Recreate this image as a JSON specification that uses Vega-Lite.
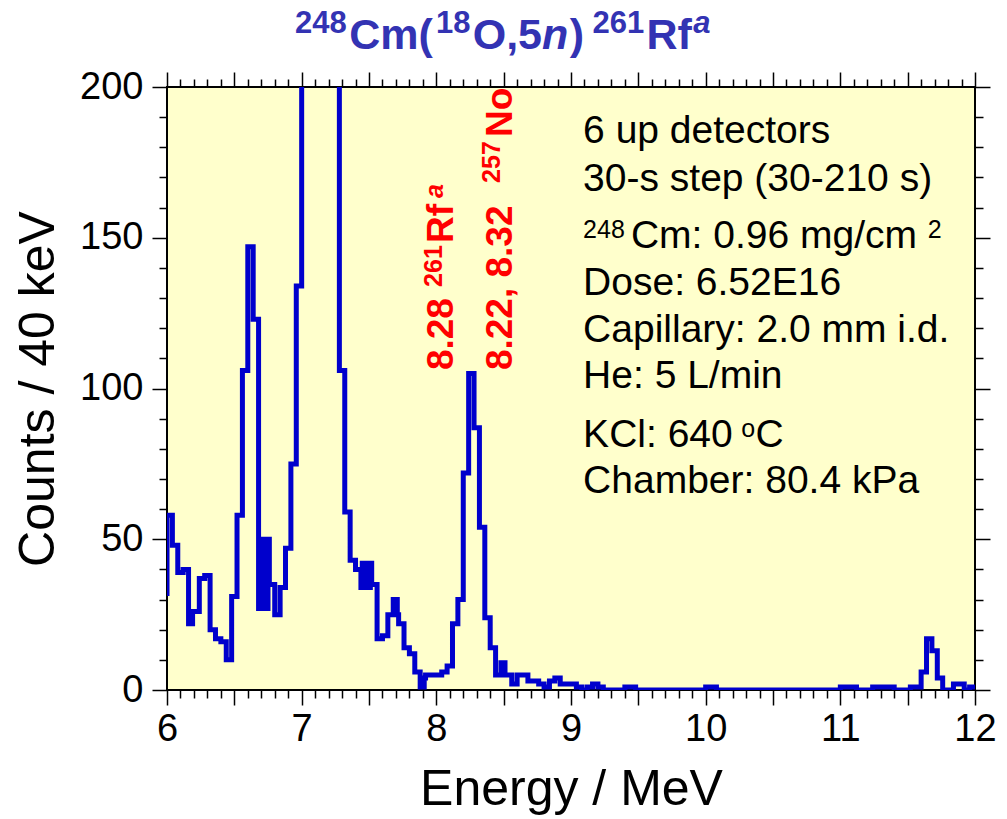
{
  "$schema": "https://vega.github.io/schema/vega-lite/v6.json",
  "autosize": "none",
  "width": 808,
  "height": 603,
  "padding": {"left": 167, "top": 87, "right": 32, "bottom": 129},
  "background": "white",
  "view": {"fill": "#FFFFCC", "stroke": "black", "strokeWidth": 2},
  "config": {
    "axis": {"domain": false, "grid": false, "tickColor": "black", "tickWidth": 1.5, "labelFont": "Liberation Sans", "labelFontSize": 38, "labelColor": "black", "titleFont": "Liberation Sans", "titleFontSize": 50, "titleFontWeight": "normal", "titleColor": "black", "labelOverlap": false, "labelFlush": false, "labelBound": false},
    "text": {"font": "Liberation Sans"}
  },
  "data": {"values": [
    {"E":5.96,"C":32},{"E":6.00,"C":58},{"E":6.04,"C":48},{"E":6.08,"C":39},{"E":6.12,"C":40},
    {"E":6.16,"C":22},{"E":6.17,"C":26},{"E":6.18,"C":22},{"E":6.19,"C":26},{"E":6.20,"C":26},
    {"E":6.24,"C":37},{"E":6.28,"C":38},{"E":6.32,"C":20},{"E":6.36,"C":17},{"E":6.40,"C":16},
    {"E":6.44,"C":10},{"E":6.48,"C":31},{"E":6.52,"C":58},{"E":6.56,"C":106},{"E":6.60,"C":147},
    {"E":6.64,"C":123},{"E":6.68,"C":27},{"E":6.69,"C":50},{"E":6.70,"C":27},{"E":6.71,"C":50},
    {"E":6.72,"C":27},{"E":6.73,"C":50},{"E":6.74,"C":27},{"E":6.75,"C":50},{"E":6.76,"C":35},
    {"E":6.80,"C":25},{"E":6.84,"C":34},{"E":6.88,"C":47},{"E":6.92,"C":75},{"E":6.96,"C":134},
    {"E":7.00,"C":260},{"E":7.04,"C":310},{"E":7.08,"C":290},{"E":7.12,"C":270},{"E":7.16,"C":300},
    {"E":7.20,"C":340},{"E":7.24,"C":320},{"E":7.28,"C":106},{"E":7.32,"C":59},{"E":7.36,"C":43},
    {"E":7.40,"C":40},{"E":7.44,"C":34},{"E":7.45,"C":42},{"E":7.46,"C":34},{"E":7.47,"C":42},
    {"E":7.48,"C":34},{"E":7.49,"C":42},{"E":7.50,"C":34},{"E":7.51,"C":42},{"E":7.52,"C":35},
    {"E":7.56,"C":17},{"E":7.60,"C":18},{"E":7.64,"C":25},{"E":7.68,"C":30},{"E":7.69,"C":25},
    {"E":7.70,"C":30},{"E":7.71,"C":25},{"E":7.72,"C":22},{"E":7.76,"C":14},{"E":7.80,"C":12},
    {"E":7.84,"C":6},{"E":7.88,"C":1},{"E":7.89,"C":4},{"E":7.90,"C":1},{"E":7.91,"C":4},
    {"E":7.92,"C":5},{"E":7.96,"C":5},{"E":8.00,"C":5},{"E":8.04,"C":6},{"E":8.08,"C":8},
    {"E":8.12,"C":22},{"E":8.16,"C":30},{"E":8.20,"C":72},{"E":8.24,"C":105},{"E":8.28,"C":87},
    {"E":8.32,"C":54},{"E":8.36,"C":24},{"E":8.40,"C":14},{"E":8.44,"C":5},{"E":8.48,"C":9},
    {"E":8.49,"C":5},{"E":8.50,"C":9},{"E":8.51,"C":5},{"E":8.52,"C":5},{"E":8.56,"C":2},
    {"E":8.60,"C":5},{"E":8.64,"C":5},{"E":8.68,"C":3},{"E":8.72,"C":3},{"E":8.76,"C":2},
    {"E":8.80,"C":1},{"E":8.84,"C":3},{"E":8.88,"C":4},{"E":8.92,"C":2},{"E":8.96,"C":2},
    {"E":9.00,"C":2},{"E":9.04,"C":1},{"E":9.08,"C":0},{"E":9.12,"C":1},{"E":9.16,"C":2},
    {"E":9.20,"C":1},{"E":9.24,"C":0},{"E":9.28,"C":0},{"E":9.32,"C":0},{"E":9.36,"C":0},
    {"E":9.40,"C":1},{"E":9.44,"C":1},{"E":9.48,"C":0},{"E":9.52,"C":0},{"E":9.56,"C":0},
    {"E":9.60,"C":0},{"E":9.64,"C":0},{"E":9.68,"C":0},{"E":9.72,"C":0},{"E":9.76,"C":0},
    {"E":9.80,"C":0},{"E":9.84,"C":0},{"E":9.88,"C":0},{"E":9.92,"C":0},{"E":9.96,"C":0},
    {"E":10.00,"C":1},{"E":10.04,"C":1},{"E":10.08,"C":0},{"E":10.12,"C":0},{"E":10.16,"C":0},
    {"E":10.20,"C":0},{"E":10.24,"C":0},{"E":10.28,"C":0},{"E":10.32,"C":0},{"E":10.36,"C":0},
    {"E":10.40,"C":0},{"E":10.44,"C":0},{"E":10.48,"C":0},{"E":10.52,"C":0},{"E":10.56,"C":0},
    {"E":10.60,"C":0},{"E":10.64,"C":0},{"E":10.68,"C":0},{"E":10.72,"C":0},{"E":10.76,"C":0},
    {"E":10.80,"C":0},{"E":10.84,"C":0},{"E":10.88,"C":0},{"E":10.92,"C":0},{"E":10.96,"C":0},
    {"E":11.00,"C":1},{"E":11.04,"C":1},{"E":11.08,"C":1},{"E":11.12,"C":0},{"E":11.16,"C":0},
    {"E":11.20,"C":0},{"E":11.24,"C":1},{"E":11.28,"C":1},{"E":11.32,"C":1},{"E":11.36,"C":1},
    {"E":11.40,"C":0},{"E":11.44,"C":0},{"E":11.48,"C":0},{"E":11.52,"C":1},{"E":11.56,"C":1},
    {"E":11.60,"C":6},{"E":11.64,"C":17},{"E":11.68,"C":13},{"E":11.72,"C":4},{"E":11.76,"C":0},
    {"E":11.80,"C":0},{"E":11.84,"C":2},{"E":11.88,"C":2},{"E":11.92,"C":0},{"E":11.96,"C":1},
    {"E":12.00,"C":1}
  ]},
  "resolve": {"axis": {"x": "independent", "y": "independent"}},
  "layer": [
    {
      "mark": {"type": "line", "interpolate": "step-after", "clip": true, "color": "#0000CC", "strokeWidth": 5, "strokeJoin": "miter", "strokeCap": "butt"},
      "encoding": {
        "x": {"field": "E", "type": "quantitative", "scale": {"domain": [6, 12], "nice": false, "zero": false},
              "axis": {"orient": "bottom", "values": [6,7,8,9,10,11,12], "tickSize": 15, "labelPadding": 5, "title": "Energy / MeV", "titlePadding": 16}},
        "y": {"field": "C", "type": "quantitative", "scale": {"domain": [0, 200], "nice": false, "zero": true},
              "axis": {"orient": "left", "values": [0,50,100,150,200], "tickSize": 15, "labelPadding": 9, "title": "Counts / 40 keV", "titlePadding": 16}}
      }
    },
    {
      "mark": {"type": "point", "opacity": 0},
      "encoding": {
        "x": {"field": "E", "type": "quantitative", "axis": {"orient": "bottom", "values": [6.5,7.5,8.5,9.5,10.5,11.5], "tickSize": 15, "labels": false, "title": null}},
        "y": {"field": "C", "type": "quantitative", "axis": {"orient": "left", "values": [10,20,30,40,60,70,80,90,110,120,130,140,160,170,180,190], "tickSize": 8, "labels": false, "title": null}}
      }
    },
    {
      "mark": {"type": "point", "opacity": 0},
      "encoding": {
        "x": {"field": "E", "type": "quantitative", "axis": {"orient": "bottom", "values": [6.1,6.2,6.3,6.4,6.6,6.7,6.8,6.9,7.1,7.2,7.3,7.4,7.6,7.7,7.8,7.9,8.1,8.2,8.3,8.4,8.6,8.7,8.8,8.9,9.1,9.2,9.3,9.4,9.6,9.7,9.8,9.9,10.1,10.2,10.3,10.4,10.6,10.7,10.8,10.9,11.1,11.2,11.3,11.4,11.6,11.7,11.8,11.9], "tickSize": 8, "labels": false, "title": null}},
        "y": {"field": "C", "type": "quantitative", "axis": {"orient": "right", "values": [0,50,100,150,200], "tickSize": 15, "labels": false, "title": null}}
      }
    },
    {
      "mark": {"type": "point", "opacity": 0},
      "encoding": {
        "x": {"field": "E", "type": "quantitative", "axis": {"orient": "top", "values": [6,7,8,9,10,11,12], "tickSize": 15, "labels": false, "title": null}},
        "y": {"field": "C", "type": "quantitative", "axis": {"orient": "right", "values": [10,20,30,40,60,70,80,90,110,120,130,140,160,170,180,190], "tickSize": 8, "labels": false, "title": null}}
      }
    },
    {
      "mark": {"type": "point", "opacity": 0},
      "encoding": {
        "x": {"field": "E", "type": "quantitative", "axis": {"orient": "top", "values": [6.5,7.5,8.5,9.5,10.5,11.5], "tickSize": 15, "labels": false, "title": null}},
        "y": {"field": "C", "type": "quantitative", "axis": null}
      }
    },
    {
      "mark": {"type": "point", "opacity": 0},
      "encoding": {
        "x": {"field": "E", "type": "quantitative", "axis": {"orient": "top", "values": [6.1,6.2,6.3,6.4,6.6,6.7,6.8,6.9,7.1,7.2,7.3,7.4,7.6,7.7,7.8,7.9,8.1,8.2,8.3,8.4,8.6,8.7,8.8,8.9,9.1,9.2,9.3,9.4,9.6,9.7,9.8,9.9,10.1,10.2,10.3,10.4,10.6,10.7,10.8,10.9,11.1,11.2,11.3,11.4,11.6,11.7,11.8,11.9], "tickSize": 8, "labels": false, "title": null}},
        "y": {"field": "C", "type": "quantitative", "axis": null}
      }
    },
    {
      "data": {"values": [
        {"x": 9.09, "y": 181.3, "t": "6 up detectors"},
        {"x": 9.09, "y": 165.6, "t": "30-s step (30-210 s)"},
        {"x": 9.445, "y": 146.5, "t": "Cm: 0.96 mg/cm"},
        {"x": 9.09, "y": 131.0, "t": "Dose: 6.52E16"},
        {"x": 9.09, "y": 115.5, "t": "Capillary: 2.0 mm i.d."},
        {"x": 9.09, "y": 100.1, "t": "He: 5 L/min"},
        {"x": 9.09, "y": 80.7, "t": "KCl: 640"},
        {"x": 10.37, "y": 80.7, "t": "C"},
        {"x": 9.09, "y": 65.2, "t": "Chamber: 80.4 kPa"}
      ]},
      "mark": {"type": "text", "fontSize": 39, "color": "black", "align": "left", "baseline": "alphabetic"},
      "encoding": {
        "x": {"field": "x", "type": "quantitative", "axis": null},
        "y": {"field": "y", "type": "quantitative", "axis": null},
        "text": {"field": "t"}
      }
    },
    {
      "data": {"values": [
        {"x": 9.09, "y": 149.8, "t": "248"},
        {"x": 11.65, "y": 149.8, "t": "2"},
        {"x": 10.265, "y": 83.9, "t": "o"}
      ]},
      "mark": {"type": "text", "fontSize": 25, "color": "black", "align": "left", "baseline": "alphabetic"},
      "encoding": {
        "x": {"field": "x", "type": "quantitative", "axis": null},
        "y": {"field": "y", "type": "quantitative", "axis": null},
        "text": {"field": "t"}
      }
    },
    {
      "data": {"values": [
        {"x": 7.353, "y": 212.5, "t": "Cm("},
        {"x": 8.270, "y": 212.5, "t": "O,5"},
        {"x": 8.99, "y": 212.5, "t": ")"},
        {"x": 9.561, "y": 212.5, "t": "Rf"}
      ]},
      "mark": {"type": "text", "fontSize": 43, "fontWeight": "bold", "color": "#3333B3", "align": "left", "baseline": "alphabetic"},
      "encoding": {
        "x": {"field": "x", "type": "quantitative", "axis": null},
        "y": {"field": "y", "type": "quantitative", "axis": null},
        "text": {"field": "t"}
      }
    },
    {
      "data": {"values": [
        {"x": 8.785, "y": 212.5, "t": "n"}
      ]},
      "mark": {"type": "text", "fontSize": 43, "fontWeight": "bold", "fontStyle": "italic", "color": "#3333B3", "align": "left", "baseline": "alphabetic"},
      "encoding": {
        "x": {"field": "x", "type": "quantitative", "axis": null},
        "y": {"field": "y", "type": "quantitative", "axis": null},
        "text": {"field": "t"}
      }
    },
    {
      "data": {"values": [
        {"x": 6.950, "y": 217.8, "t": "248"},
        {"x": 7.997, "y": 217.8, "t": "18"},
        {"x": 9.16, "y": 217.8, "t": "261"}
      ]},
      "mark": {"type": "text", "fontSize": 31, "fontWeight": "bold", "color": "#3333B3", "align": "left", "baseline": "alphabetic"},
      "encoding": {
        "x": {"field": "x", "type": "quantitative", "axis": null},
        "y": {"field": "y", "type": "quantitative", "axis": null},
        "text": {"field": "t"}
      }
    },
    {
      "data": {"values": [
        {"x": 9.907, "y": 217.8, "t": "a"}
      ]},
      "mark": {"type": "text", "fontSize": 31, "fontWeight": "bold", "fontStyle": "italic", "color": "#3333B3", "align": "left", "baseline": "alphabetic"},
      "encoding": {
        "x": {"field": "x", "type": "quantitative", "axis": null},
        "y": {"field": "y", "type": "quantitative", "axis": null},
        "text": {"field": "t"}
      }
    },
    {
      "data": {"values": [
        {"x": 8.123, "y": 106.1, "t": "8.28"},
        {"x": 8.123, "y": 148.3, "t": "Rf"},
        {"x": 8.559, "y": 106.1, "t": "8.22, 8.32"},
        {"x": 8.559, "y": 183.4, "t": "No"}
      ]},
      "mark": {"type": "text", "fontSize": 37, "fontWeight": "bold", "color": "#FF0000", "align": "left", "baseline": "alphabetic", "angle": 270},
      "encoding": {
        "x": {"field": "x", "type": "quantitative", "axis": null},
        "y": {"field": "y", "type": "quantitative", "axis": null},
        "text": {"field": "t"}
      }
    },
    {
      "data": {"values": [
        {"x": 8.04, "y": 133.7, "t": "261"},
        {"x": 8.472, "y": 168.2, "t": "257"}
      ]},
      "mark": {"type": "text", "fontSize": 25, "fontWeight": "bold", "color": "#FF0000", "align": "left", "baseline": "alphabetic", "angle": 270},
      "encoding": {
        "x": {"field": "x", "type": "quantitative", "axis": null},
        "y": {"field": "y", "type": "quantitative", "axis": null},
        "text": {"field": "t"}
      }
    },
    {
      "data": {"values": [
        {"x": 8.05, "y": 163.2, "t": "a"}
      ]},
      "mark": {"type": "text", "fontSize": 25, "fontWeight": "bold", "fontStyle": "italic", "color": "#FF0000", "align": "left", "baseline": "alphabetic", "angle": 270},
      "encoding": {
        "x": {"field": "x", "type": "quantitative", "axis": null},
        "y": {"field": "y", "type": "quantitative", "axis": null},
        "text": {"field": "t"}
      }
    }
  ]
}
